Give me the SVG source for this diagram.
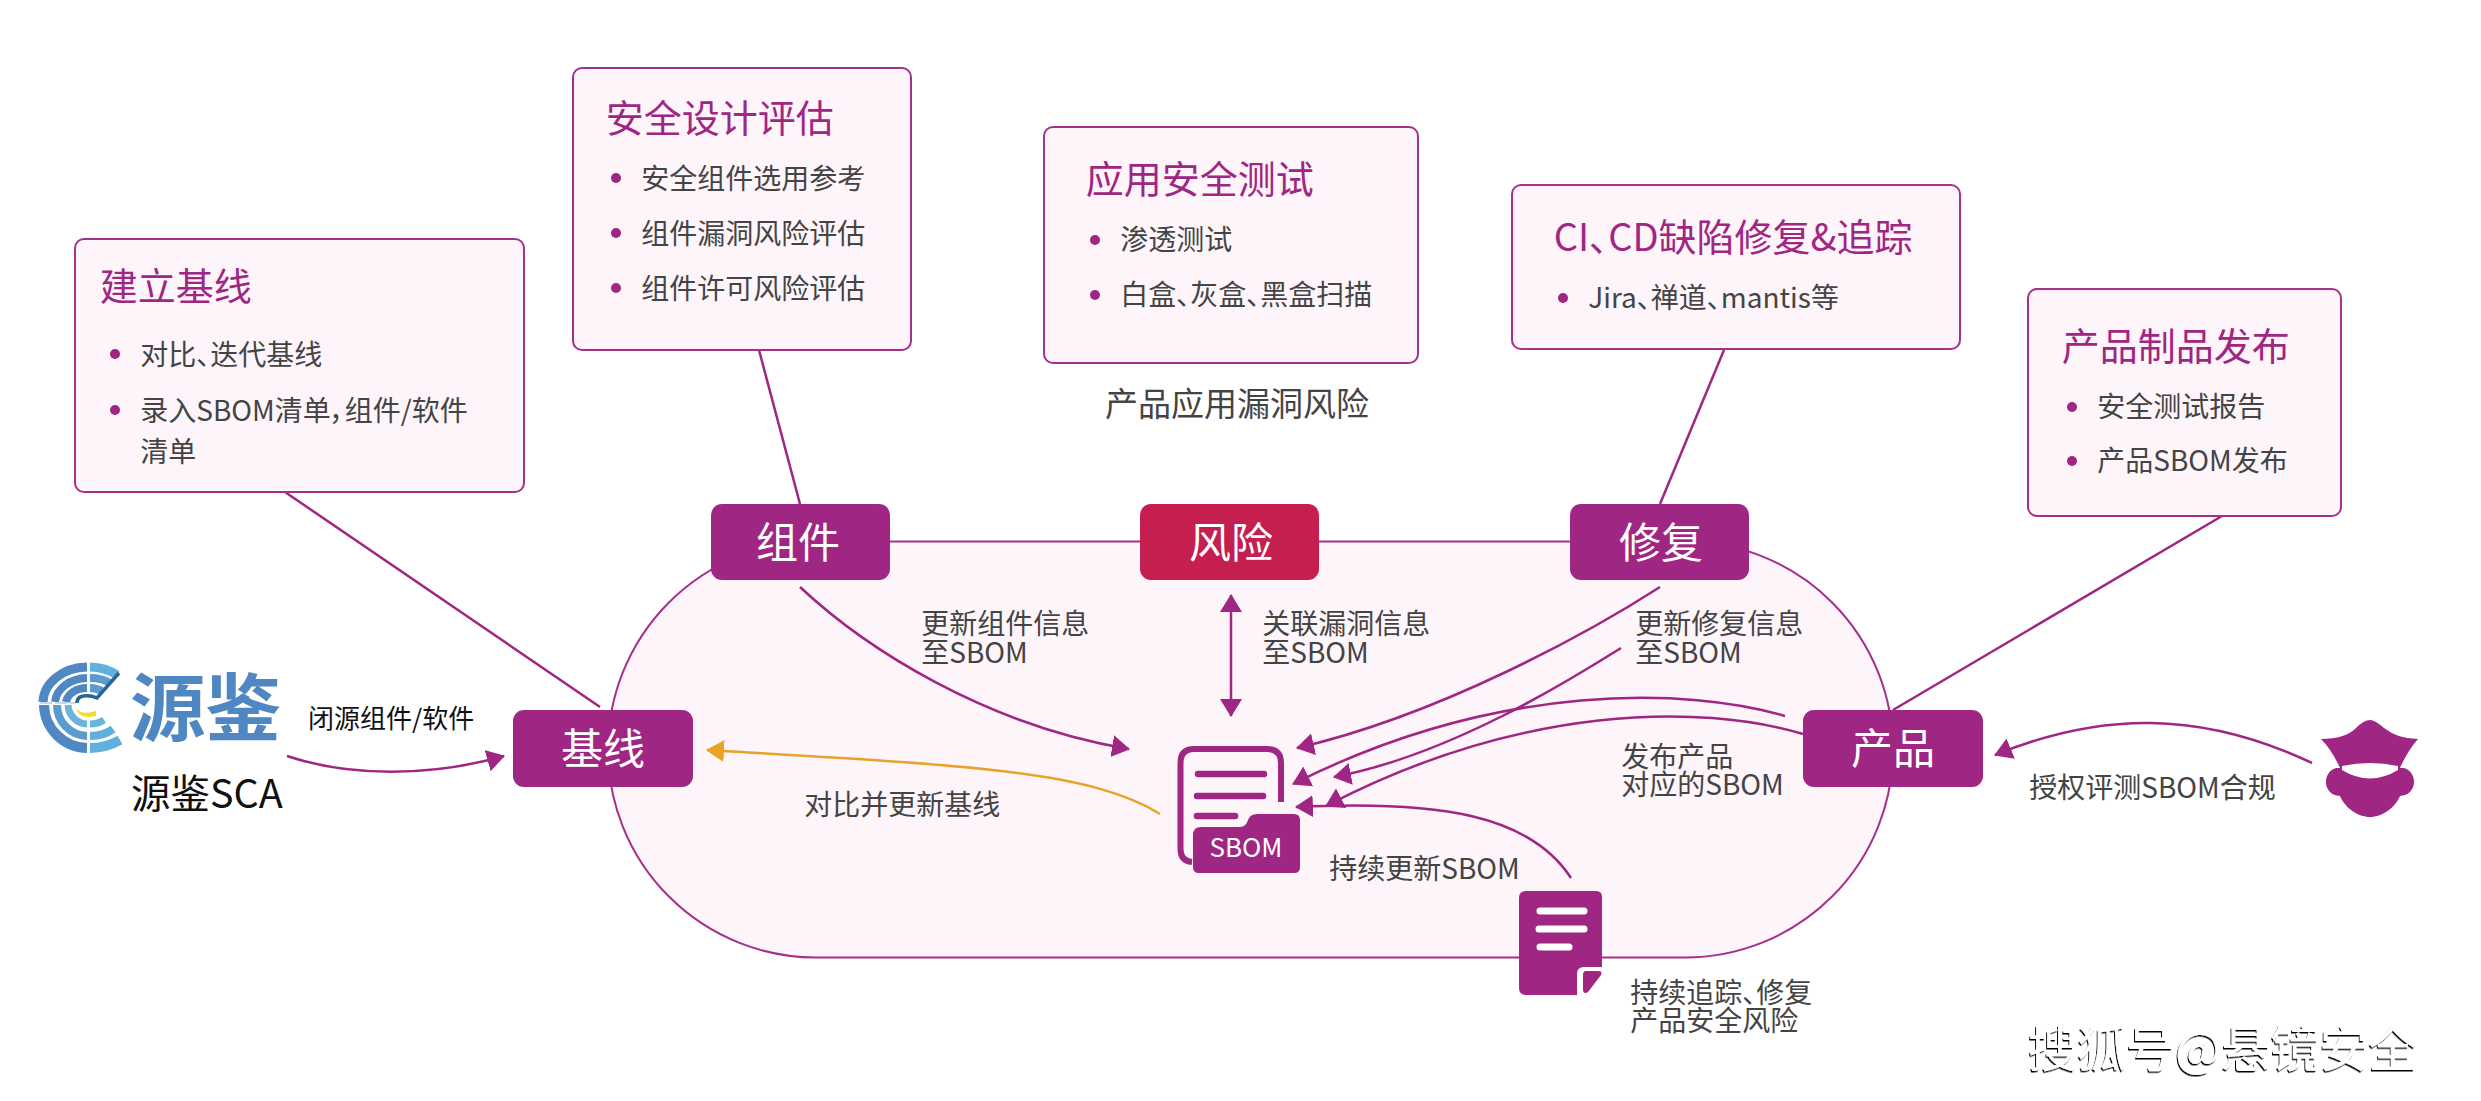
<svg xmlns="http://www.w3.org/2000/svg" width="2481" height="1101" viewBox="0 0 2481 1101">
<style>
text{font-family:"Noto Sans CJK SC","Noto Sans",sans-serif;font-feature-settings:"palt"}
.card{fill:#fdf5fa;stroke:#a5308a;stroke-width:2}
.node{fill:#9f2682}
.title{font-size:38px;fill:#9f2682;transform:translateX(-1.2px)}
.body{font-size:28px;fill:#444;transform:translateX(-0.8px)}
.label{font-size:28px;fill:#444;transform:translateX(-0.8px)}
.nt{font-size:42px;fill:#fff;text-anchor:middle}
.dot{fill:#9f2682}
.c{fill:none;stroke:#9f2682;stroke-width:2.5}
.ca{fill:none;stroke:#9f2682;stroke-width:2.5;marker-end:url(#ah)}
.wl{fill:none;stroke:#fff;stroke-width:7;stroke-linecap:round}
.pl{fill:none;stroke:#9f2682;stroke-width:6.5;stroke-linecap:round}
.b{fill:none;stroke-linecap:butt}
</style>
<defs>
<marker id="ah" viewBox="0 0 18 22" refX="17" refY="11" markerWidth="18" markerHeight="22" markerUnits="userSpaceOnUse" orient="auto-start-reverse"><path d="M0,0L18,11L0,22Z" fill="#9f2682"/></marker>
<marker id="ao" viewBox="0 0 18 22" refX="17" refY="11" markerWidth="18" markerHeight="22" markerUnits="userSpaceOnUse" orient="auto"><path d="M0,0L18,11L0,22Z" fill="#e9a227"/></marker>
<filter id="ws" x="-5%" y="-10%" width="110%" height="120%"><feDropShadow dx="-1" dy="1.5" stdDeviation="0" flood-color="#000"/></filter>
</defs>

<rect id="ring" x="608" y="541.5" width="1285" height="416" rx="208" ry="208" fill="#fdf5fa" stroke="#a5308a" stroke-width="2"/>

<g id="connectors">
<path class="c" d="M285,492L600,707"/>
<path class="c" d="M759,350L800,504"/>
<path class="c" d="M1724,350L1660,504"/>
<path class="c" d="M2222,516L1893,710"/>
<path class="ca" d="M287,756C350,777 430,777 504,756"/>
<path class="ca" d="M800,587C865,648 985,725 1129,749"/>
<path class="ca" d="M1231,595V716" style="marker-start:url(#ah)"/>
<path class="ca" d="M1660,587C1590,632 1440,715 1297,748"/>
<path class="ca" d="M1621,648C1570,680 1450,755 1334,777"/>
<path class="ca" d="M1785,716C1690,688 1500,680 1293,784"/>
<path class="ca" d="M1803,734C1700,703 1520,705 1326,806"/>
<path class="ca" d="M1571,878C1530,815 1440,800 1296,807"/>
<path d="M1160,814C1090,770 960,765 707,750" fill="none" stroke="#e9a227" stroke-width="2.5" marker-end="url(#ao)"/>
<path class="ca" d="M2312,763C2200,710 2100,712 1995,755"/>
</g>

<g id="card-baseline">
<rect class="card" x="75" y="239" width="449" height="253" rx="9"/>
<text class="title" x="101" y="300">建立基线</text>
<circle class="dot" cx="115" cy="354" r="5"/><text class="body" x="141" y="365">对比、迭代基线</text>
<circle class="dot" cx="115" cy="410" r="5"/><text class="body" x="141" y="421">录入SBOM清单，组件/软件</text>
<text class="body" x="141" y="462">清单</text>
</g>
<g id="card-design">
<rect class="card" x="573" y="68" width="338" height="282" rx="9"/>
<text class="title" x="607" y="132">安全设计评估</text>
<circle class="dot" cx="616" cy="178" r="5"/><text class="body" x="642" y="189">安全组件选用参考</text>
<circle class="dot" cx="616" cy="233" r="5"/><text class="body" x="642" y="244">组件漏洞风险评估</text>
<circle class="dot" cx="616" cy="288" r="5"/><text class="body" x="642" y="299">组件许可风险评估</text>
</g>
<g id="card-test">
<rect class="card" x="1044" y="127" width="374" height="236" rx="9"/>
<text class="title" x="1087" y="193">应用安全测试</text>
<circle class="dot" cx="1095" cy="240" r="5"/><text class="body" x="1121" y="250">渗透测试</text>
<circle class="dot" cx="1095" cy="295" r="5"/><text class="body" x="1121" y="305">白盒、灰盒、黑盒扫描</text>
<text x="1105" y="416" style="font-size:33px;fill:#444">产品应用漏洞风险</text>
</g>
<g id="card-fix">
<rect class="card" x="1512" y="185" width="448" height="164" rx="9"/>
<text class="title" x="1555" y="251">CI、CD缺陷修复&amp;追踪</text>
<circle class="dot" cx="1563" cy="298" r="5"/><text class="body" x="1589" y="308">Jira、禅道、mantis等</text>
</g>
<g id="card-release">
<rect class="card" x="2028" y="289" width="313" height="227" rx="9"/>
<text class="title" x="2063" y="360">产品制品发布</text>
<circle class="dot" cx="2072" cy="407" r="5"/><text class="body" x="2098" y="417">安全测试报告</text>
<circle class="dot" cx="2072" cy="461" r="5"/><text class="body" x="2098" y="471">产品SBOM发布</text>
</g>

<g id="node-baseline"><rect class="node" x="513" y="710" width="180" height="77" rx="11"/><text class="nt" x="603" y="764">基线</text></g>
<g id="node-component"><rect class="node" x="711" y="504" width="179" height="76" rx="11"/><text class="nt" x="798" y="558">组件</text></g>
<g id="node-risk"><rect x="1140" y="504" width="179" height="76" rx="11" fill="#c41f4e"/><text class="nt" x="1231" y="558">风险</text></g>
<g id="node-fix"><rect class="node" x="1570" y="504" width="179" height="76" rx="11"/><text class="nt" x="1661" y="558">修复</text></g>
<g id="node-product"><rect class="node" x="1803" y="710" width="180" height="77" rx="11"/><text class="nt" x="1893" y="764">产品</text></g>

<g id="node-logo">
<g class="b" stroke-width="8">
<path stroke="#4f88c2" d="M43,702A45,36 0 0 1 87,667" stroke-width="9"/>
<path stroke="#5fb0dc" d="M90,667A45,36 0 0 1 117,675" stroke-width="9"/>
<path stroke="#4f88c2" d="M55,702A33,26 0 0 1 87,678"/>
<path stroke="#5a9bd0" d="M90,678A33,26 0 0 1 110,683"/>
<path stroke="#4f88c2" d="M66,702A21,16 0 0 1 87,688"/>
<path stroke="#5a9bd0" d="M90,688A21,16 0 0 1 102,691"/>
<path stroke="#4f88c2" d="M44,705A44,44 0 0 0 87,748" stroke-width="10"/>
<path stroke="#5fb0dc" d="M90,748Q106,748 120,740" stroke-width="10"/>
<path stroke="#5a9bd0" d="M57,705A31,31 0 0 0 87,736"/>
<path stroke="#5fb0dc" d="M90,736Q104,736 113,729"/>
<path stroke="#6ab5de" d="M68,705A20,20 0 0 0 87,724" stroke-width="7"/>
<path stroke="#6ab5de" d="M90,724Q98,724 104,720" stroke-width="7"/>
</g>
<path d="M40,703H76" stroke="#c5d8ee" stroke-width="2" stroke-dasharray="12 3" fill="none"/>
<path d="M76,707Q80,716 96,711L96,716Q78,720 76,707Z" fill="#f3dc2e"/>
<path d="M119,673L97,698Q88,694 80,697Q77,699 77,703" fill="none" stroke="#2a6396" stroke-width="3.5"/>
<text x="130" y="735" textLength="151" lengthAdjust="spacingAndGlyphs" style="font-size:74px;font-weight:700;fill:#4e87c1">源鉴</text>
<text x="131" y="808" style="font-size:39.500px;fill:#111">源鉴SCA</text>
</g>

<g id="node-sbom">
<path d="M1281,802V763Q1281,749 1267,749H1194Q1180.500,749 1180.500,763V849Q1180.500,861 1192,862" fill="none" stroke="#9f2682" stroke-width="6"/>
<path class="pl" d="M1198,774H1264M1197,796H1263M1197,816H1235"/>
<path class="node" d="M1193,835Q1193,827 1201,827H1240Q1246,827 1248,820Q1250,814 1257,814H1294Q1300,814 1300,820V867Q1300,873 1294,873H1199Q1193,873 1193,867Z"/>
<text x="1246" y="857" text-anchor="middle" style="font-size:26px;fill:#fff">SBOM</text>
</g>

<g id="node-report">
<path class="node" d="M1526,891H1596Q1602,891 1602,897V967H1584Q1577,967 1577,974V995H1526Q1519,995 1519,988V898Q1519,891 1526,891Z"/>
<path class="node" d="M1586,971H1598Q1603,971 1601,975L1588,992Q1583,995 1583,989V975Q1583,971 1586,971Z"/>
<path class="wl" d="M1540,911H1584M1539,929H1584M1540,947H1569"/>
</g>

<g id="node-auditor">
<path class="node" d="M2370,720Q2375,720 2384,728Q2398,739 2418,739Q2408,750 2399,770L2341,770Q2332,750 2321,739Q2345,739 2356,728Q2364,720 2370,720Z"/>
<path class="node" d="M2336,768C2322,772 2322,795 2340,796C2345,808 2358,817 2370,817C2382,817 2395,808 2400,796C2418,795 2418,772 2404,768Z"/>
<path d="M2342,766Q2370,760 2398,766L2398,770Q2370,787 2342,770Z" fill="#fff"/>
</g>

<g id="labels">
<text x="308" y="728" style="font-size:26px;fill:#111">闭源组件/软件</text>
<text class="label" x="922" y="634">更新组件信息</text><text class="label" x="922" y="663">至SBOM</text>
<text class="label" x="1263" y="634">关联漏洞信息</text><text class="label" x="1263" y="663">至SBOM</text>
<text class="label" x="1636" y="634">更新修复信息</text><text class="label" x="1636" y="663">至SBOM</text>
<text class="label" x="1622" y="767">发布产品</text><text class="label" x="1622" y="795">对应的SBOM</text>
<text class="label" x="1330" y="879">持续更新SBOM</text>
<text class="label" x="1631" y="1003">持续追踪、修复</text><text class="label" x="1631" y="1031">产品安全风险</text>
<text class="label" x="805" y="815">对比并更新基线</text>
<text class="label" x="2030" y="798">授权评测SBOM合规</text>
<text x="2028" y="1067" filter="url(#ws)" style="font-size:49px;fill:#fff">搜狐号@悬镜安全</text>
</g>
</svg>
